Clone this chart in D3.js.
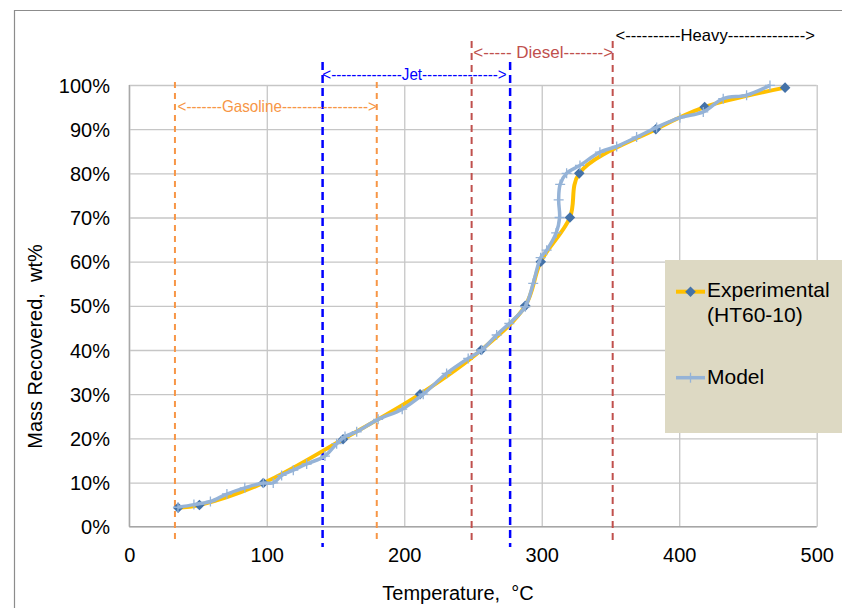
<!DOCTYPE html>
<html><head><meta charset="utf-8">
<script src="https://cdn.jsdelivr.net/npm/d3@7"></script>
<style>body{margin:0;background:#fff}svg{display:block}text{white-space:pre}</style>
</head><body>
<svg id="c" width="842" height="608"></svg>
<script>
// ---- data ----
const xTicks = [0, 100, 200, 300, 400, 500];
const yTicks = [0, 0.1, 0.2, 0.3, 0.4, 0.5, 0.6, 0.7, 0.8, 0.9, 1.0];

const expTemp = [35.5, 51, 97.5, 155.5, 211.5, 256, 288, 299.3, 320.5, 327.3, 383, 418.5, 477];
const expMass = [0.043, 0.049, 0.099, 0.198, 0.300, 0.400, 0.500, 0.600, 0.700, 0.800, 0.900, 0.950, 0.994];

const modelTemp = [35.4, 47, 59, 71, 84, 97.5, 104.7, 110.8, 119.3, 129, 142.3, 150.8, 156.9, 165.4, 181, 198.5, 213.8, 230.8, 246.5, 256.3, 267.2, 276.4, 288, 293.8, 299.2, 303.6, 310.5, 313, 312.3, 313.4, 318.1, 327.8, 342.3, 354.5, 369, 383.6, 400.5, 417.5, 432, 449, 466];
const modelMass = [0.044, 0.050, 0.057, 0.074, 0.088, 0.099, 0.099, 0.116, 0.128, 0.142, 0.160, 0.188, 0.204, 0.215, 0.243, 0.266, 0.300, 0.347, 0.381, 0.400, 0.434, 0.460, 0.498, 0.551, 0.609, 0.626, 0.665, 0.700, 0.740, 0.775, 0.800, 0.818, 0.848, 0.861, 0.882, 0.904, 0.926, 0.939, 0.969, 0.977, 0.999];

const bandNames = ["Gasoline", "Jet", "Diesel"];
const bandLow  = [33.2, 140.6, 249];
const bandHigh = [180, 277, 351.6];

const rangeText = ["<-------Gasoline----------------->", "<--------------Jet--------------->", "<----- Diesel------->", "<----------Heavy-------------->"];
const rangeFrom = [35.1, 140.4, 250.2, 353.7];
const rangeTo   = [180.1, 274.5, 352, 498.7];

const seriesNames = ["Experimental", "(HT60-10)", "Model"];
const xTitle = "Temperature,  \u00B0C";
const yTitle = "Mass Recovered,  wt%";

// ---- layout / style ----
const L = 129.3, R = 816.7, T = 85, B = 526.7;
const bandColors = ["#F79646", "#0000FF", "#C0504D"];
const rangeColors = ["#F79646", "#0000FF", "#C0504D", "#000000"];
const bandTop = [82, 62, 41];
const bandBottom = [543, 547, 540];
const bandDash = ["6,5", "8,5", "7,5"];
const bandWidth = [2, 2.5, 2];
const rangeY = [106, 74.5, 52.5, 35];

const svg = d3.select("#c");
const x = d3.scaleLinear().domain([0, 500]).range([L, R]);
const y = d3.scaleLinear().domain([0, 1]).range([B, T]);

svg.append("rect").attr("width", 842).attr("height", 608).attr("fill", "#fff");
// outer frame
svg.append("path").attr("d", "M14.5,608V10.5H842").attr("fill", "none").attr("stroke", "#8c8c8c").attr("stroke-width", 1.2);

// gridlines
const gx = svg.append("g").attr("transform", `translate(0,${B})`)
  .call(d3.axisBottom(x).tickValues(xTicks).tickSize(-(B - T)).tickFormat(""));
gx.select(".domain").remove();
gx.selectAll("line").attr("stroke", "#c6c6c6").attr("stroke-width", 1.3);
const gy = svg.append("g").attr("transform", `translate(${L},0)`)
  .call(d3.axisLeft(y).tickValues(yTicks).tickSize(-(R - L)).tickFormat(""));
gy.select(".domain").remove();
gy.selectAll("line").attr("stroke", "#c6c6c6").attr("stroke-width", 1.3);
svg.append("line").attr("x1", L).attr("x2", R).attr("y1", B).attr("y2", B).attr("stroke", "#a6a6a6").attr("stroke-width", 1.3);
svg.append("line").attr("x1", L).attr("x2", L).attr("y1", T).attr("y2", B).attr("stroke", "#a6a6a6").attr("stroke-width", 1.3);

// tick labels
const ax = svg.append("g").attr("transform", `translate(0,${B})`)
  .call(d3.axisBottom(x).tickValues(xTicks).tickSize(0).tickPadding(0).tickFormat(d3.format("d")));
ax.select(".domain").remove();
ax.selectAll("text").attr("y", 35).attr("dy", 0).attr("font-family", "Liberation Sans, Arial, sans-serif").attr("font-size", 20).attr("fill", "#000");
const ay = svg.append("g").attr("transform", `translate(110,0)`)
  .call(d3.axisLeft(y).tickValues(yTicks).tickSize(0).tickPadding(0).tickFormat(d3.format(".0%")));
ay.select(".domain").remove();
ay.selectAll("text").attr("x", 0).attr("dy", 7).attr("font-family", "Liberation Sans, Arial, sans-serif").attr("font-size", 20).attr("fill", "#000");

// axis titles
svg.append("text").attr("x", 458).attr("y", 600).attr("text-anchor", "middle")
  .attr("font-family", "Liberation Sans, Arial, sans-serif").attr("font-size", 20).text(xTitle);
svg.append("text").attr("transform", "translate(42,346.5) rotate(-90)").attr("text-anchor", "middle")
  .attr("font-family", "Liberation Sans, Arial, sans-serif").attr("font-size", 20).text(yTitle);

// band boundary lines
bandNames.forEach((n, i) => {
  [bandLow[i], bandHigh[i]].forEach(t => {
    svg.append("line").attr("x1", x(t)).attr("x2", x(t)).attr("y1", bandTop[i]).attr("y2", bandBottom[i])
      .attr("stroke", bandColors[i]).attr("stroke-width", bandWidth[i]).attr("stroke-dasharray", bandDash[i]);
  });
});

// range labels
rangeText.forEach((s, i) => {
  svg.append("text").attr("x", x(rangeFrom[i])).attr("y", rangeY[i]).attr("dy", "0.35em")
    .attr("font-family", "Liberation Sans, Arial, sans-serif").attr("font-size", 16.5)
    .attr("fill", rangeColors[i])
    .attr("textLength", x(rangeTo[i]) - x(rangeFrom[i])).attr("lengthAdjust", "spacingAndGlyphs")
    .text(s);
});

// series
const expData = expTemp.map((t, i) => [t, expMass[i]]);
const modelData = modelTemp.map((t, i) => [t, modelMass[i]]);
const line = d3.line().x(d => x(d[0])).y(d => y(d[1])).curve(d3.curveCatmullRom.alpha(0.5));

svg.append("path").attr("d", line(expData)).attr("fill", "none").attr("stroke", "#FFC000").attr("stroke-width", 4).attr("stroke-linejoin", "round");
const diamond = d3.symbol().type(d3.symbolSquare).size(56);
svg.append("g").selectAll("path").data(expData).join("path")
  .attr("d", diamond).attr("transform", d => `translate(${x(d[0])},${y(d[1])}) rotate(45)`)
  .attr("fill", "#4472A8");

svg.append("path").attr("d", line(modelData)).attr("fill", "none").attr("stroke", "#95B3D7").attr("stroke-width", 3.5).attr("stroke-linejoin", "round");
svg.append("g").selectAll("path").data(modelData).join("path")
  .attr("d", d => `M${x(d[0])},${y(d[1]) - 5}V${y(d[1]) + 5}M${x(d[0]) - 5},${y(d[1])}H${x(d[0]) + 5}`)
  .attr("stroke", "#95B3D7").attr("stroke-width", 1.3).attr("fill", "none");

// legend
const lg = svg.append("g");
lg.append("rect").attr("x", 665).attr("y", 260).attr("width", 190).attr("height", 173).attr("fill", "#DDD9C3");
lg.append("line").attr("x1", 676).attr("x2", 705).attr("y1", 291.7).attr("y2", 291.7).attr("stroke", "#FFC000").attr("stroke-width", 4);
lg.append("path").attr("d", diamond).attr("transform", "translate(690.5,291.7) rotate(45)").attr("fill", "#4472A8");
lg.append("line").attr("x1", 676).attr("x2", 705).attr("y1", 377.7).attr("y2", 377.7).attr("stroke", "#95B3D7").attr("stroke-width", 3.5);
lg.append("path").attr("d", "M690.5,372.7V382.7").attr("stroke", "#95B3D7").attr("stroke-width", 1.3);
const ly = [296.7, 321.7, 383.5];
seriesNames.forEach((s, i) => {
  lg.append("text").attr("x", 707).attr("y", ly[i]).attr("font-family", "Liberation Sans, Arial, sans-serif")
    .attr("font-size", 21).attr("fill", "#000").text(s);
});
</script>
</body></html>
